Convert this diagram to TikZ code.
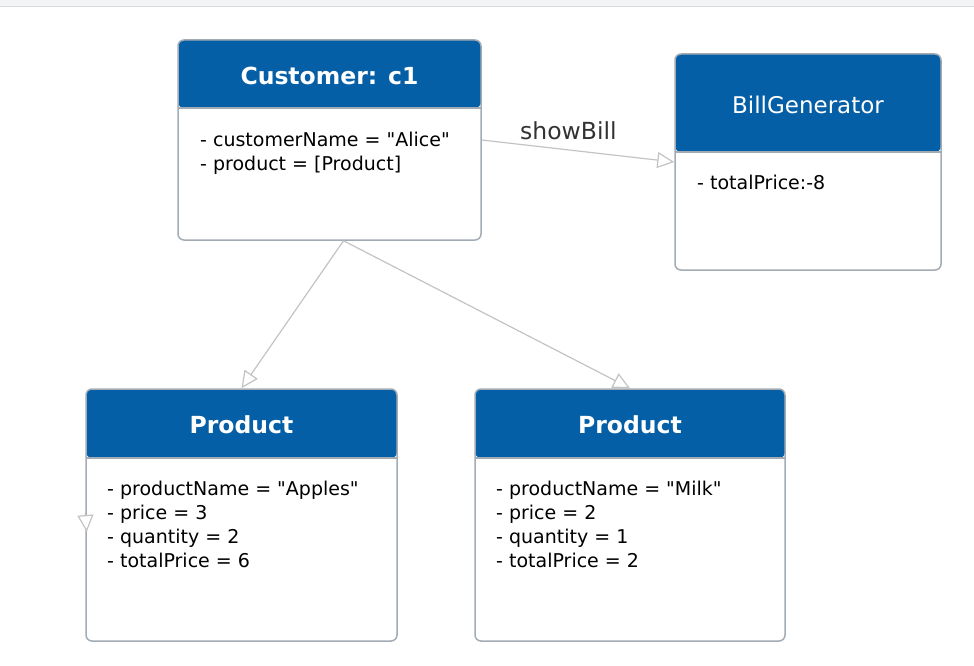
\documentclass[tikz,border=0pt]{standalone}
\usepackage{fontspec}
\setmainfont{DejaVu Sans}
\usepackage{tikz}
\usetikzlibrary{arrows.meta}
\definecolor{head}{HTML}{055FA6}
\definecolor{rim}{HTML}{A3ABB5}
\definecolor{wire}{HTML}{C3C3C3}
\definecolor{ink}{HTML}{000000}
\definecolor{tag}{HTML}{333333}
\definecolor{band}{HTML}{F3F4F6}
\newcommand{\dq}{\textquotedbl}
\tikzset{
  box/.style={draw=rim, line width=1.5pt, rounded corners=6pt, fill=white, inner sep=0pt,
    path picture={
      \fill[head] (path picture bounding box.north west) rectangle ([yshift=-#1]path picture bounding box.north east);
      \draw[rim, line width=1.5pt] ([yshift=-#1]path picture bounding box.north west) -- ([yshift=-#1]path picture bounding box.north east);
    }},
  title/.style={text=white, font=\fontsize{23.5}{28}\selectfont\bfseries, inner sep=0pt},
  titlem/.style={text=white, font=\fontsize{23}{28}\selectfont, inner sep=0pt},
  body/.style={text=ink, font=\fontsize{19}{24}\selectfont, align=left, anchor=north west, inner sep=0pt},
  conn/.style={draw=wire, line width=1.2pt, -{Triangle[length=17pt,width=16pt,fill=white]}},
  lab/.style={text=tag, font=\fontsize{23.5}{28}\selectfont},
}

\begin{document}
\begin{tikzpicture}[x=1pt,y=-1pt]
  \useasboundingbox (0,0) rectangle (974,666);
  \fill[band] (0,0) rectangle (974,7);
  \draw[black!15, line width=1pt] (0,7) -- (974,7);
  % classes
  \node[box=68pt, minimum width=303pt, minimum height=200pt] (cust) at (329.5,140) {};
  \node[box=98pt, minimum width=266pt, minimum height=216pt] (bill) at (808,162) {};
  \node[box=69pt, minimum width=311pt, minimum height=252pt] (prodA) at (241.5,515) {};
  \node[box=69pt, minimum width=310pt, minimum height=252pt] (prodB) at (630,515) {};
  % headers
  \node[title] (custHead) at (329.5,76) {Customer: c1};
  \node[titlem] (billHead) at (808,105) {BillGenerator};
  \node[title] (prodAHead) at (241.5,425) {Product};
  \node[title] (prodBHead) at (630,425) {Product};
  % fields
  \node[body] (custBody) at (200,132) {- customerName = \dq Alice\dq\\- product = [Product]};
  \node[body] (billBody) at (697,175) {- totalPrice:-8};
  \node[body] (prodABody) at (107,481) {- productName = \dq Apples\dq\\- price = 3\\- quantity = 2\\- totalPrice = 6};
  \node[body] (prodBBody) at (496,481) {- productName = \dq Milk\dq\\- price = 2\\- quantity = 1\\- totalPrice = 2};
  % links
  \draw[conn] (cust.east) -- node[lab, above=6pt, pos=0.45] {showBill} (bill.west);
  \draw[conn] ([xshift=14pt]cust.south) -- (prodA.north);
  \draw[conn] ([xshift=14pt]cust.south) -- (prodB.north);
  \draw[conn] ([yshift=2pt]prodA.west) -- ([shift={(1.5,17)}]prodA.west);
\end{tikzpicture}
\end{document}
